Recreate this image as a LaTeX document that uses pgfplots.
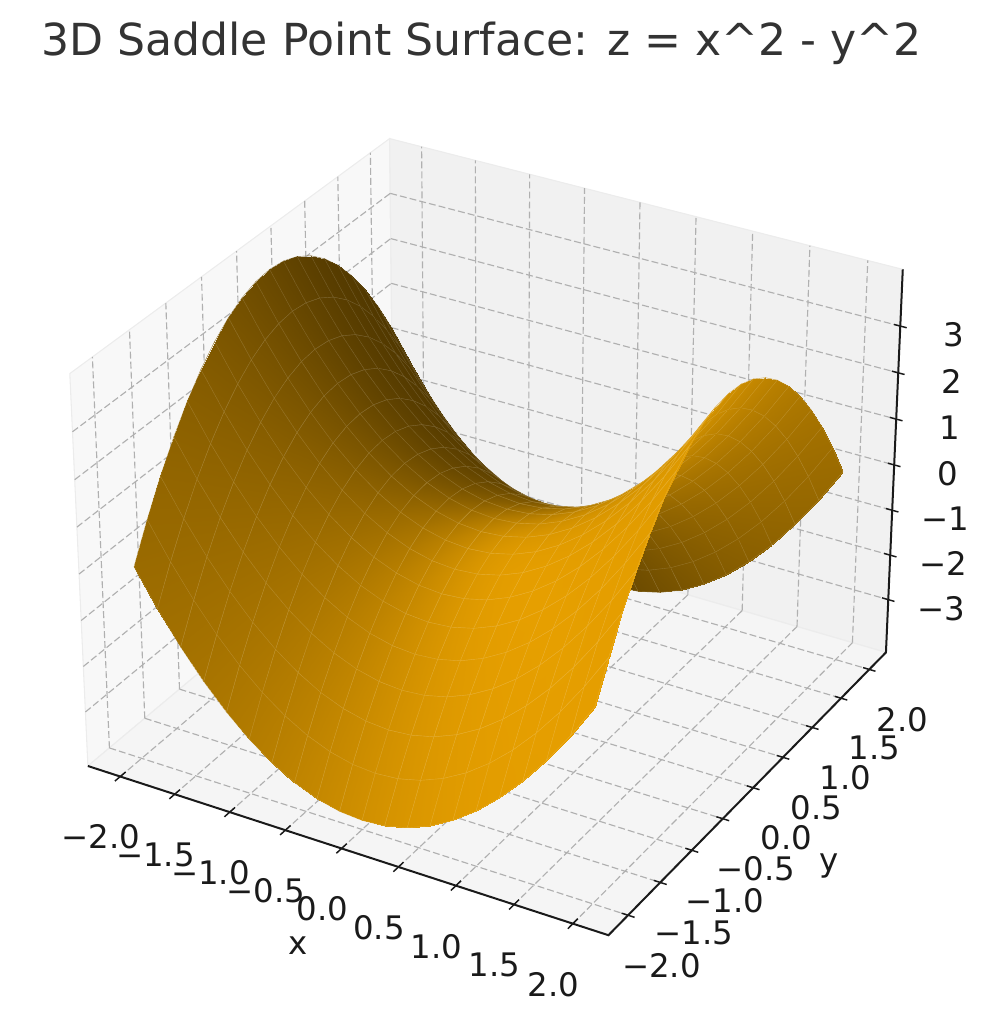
\documentclass[border=0pt]{standalone}
\usepackage{fontspec}
\setmainfont{DejaVu Sans}
\usepackage{pgfplots}
\pgfplotsset{compat=1.18}
\definecolor{paneleft}{RGB}{248,248,248}
\definecolor{paneback}{RGB}{241,241,241}
\definecolor{panefloor}{RGB}{245,245,245}
\definecolor{paneedge}{RGB}{236,236,236}
\definecolor{gridgray}{RGB}{176,176,176}
\definecolor{ink}{RGB}{26,26,26}
\definecolor{titleink}{RGB}{51,51,51}
% perspective like the reference view (elev 30, azim -60, focal 1)
\makeatletter
\newdimen\persp@a \persp@a=0.010757pt
\newdimen\persp@b \persp@b=-0.018632pt
\newdimen\persp@c \persp@c=0.0051pt
\newdimen\persp@s \newdimen\persp@w \newdimen\persp@t
\def\persp@point#1#2#3{%
  \global\pgf@x=#1\pgf@xx \global\advance\pgf@x by #2\pgf@yx \global\advance\pgf@x by #3\pgf@zx
  \global\pgf@y=#1\pgf@xy \global\advance\pgf@y by #2\pgf@yy \global\advance\pgf@y by #3\pgf@zy
  \persp@s=#1\persp@a \advance\persp@s by #2\persp@b \advance\persp@s by #3\persp@c
  \persp@w=1pt \advance\persp@w by \persp@s
  \persp@t=\pgf@sys@tonumber\persp@s\persp@s \advance\persp@w by \persp@t
  \persp@t=\pgf@sys@tonumber\persp@s\persp@t \advance\persp@w by \persp@t
  \global\pgf@x=\pgf@sys@tonumber\persp@w\pgf@x
  \global\pgf@y=\pgf@sys@tonumber\persp@w\pgf@y
}
\tikzset{persp on/.code={\global\let\pgfplotsqpointxyz\persp@point}}
\makeatother
\pgfplotstableread{
x y z
-2.0 -2.0 0.00
-1.8 -2.0 -0.76
-1.6 -2.0 -1.44
-1.4 -2.0 -2.04
-1.2 -2.0 -2.56
-1.0 -2.0 -3.00
-0.8 -2.0 -3.36
-0.6 -2.0 -3.64
-0.4 -2.0 -3.84
-0.2 -2.0 -3.96
0.0 -2.0 -4.00
0.2 -2.0 -3.96
0.4 -2.0 -3.84
0.6 -2.0 -3.64
0.8 -2.0 -3.36
1.0 -2.0 -3.00
1.2 -2.0 -2.56
1.4 -2.0 -2.04
1.6 -2.0 -1.44
1.8 -2.0 -0.76
2.0 -2.0 0.00

-2.0 -1.8 0.76
-1.8 -1.8 0.00
-1.6 -1.8 -0.68
-1.4 -1.8 -1.28
-1.2 -1.8 -1.80
-1.0 -1.8 -2.24
-0.8 -1.8 -2.60
-0.6 -1.8 -2.88
-0.4 -1.8 -3.08
-0.2 -1.8 -3.20
0.0 -1.8 -3.24
0.2 -1.8 -3.20
0.4 -1.8 -3.08
0.6 -1.8 -2.88
0.8 -1.8 -2.60
1.0 -1.8 -2.24
1.2 -1.8 -1.80
1.4 -1.8 -1.28
1.6 -1.8 -0.68
1.8 -1.8 0.00
2.0 -1.8 0.76

-2.0 -1.6 1.44
-1.8 -1.6 0.68
-1.6 -1.6 0.00
-1.4 -1.6 -0.60
-1.2 -1.6 -1.12
-1.0 -1.6 -1.56
-0.8 -1.6 -1.92
-0.6 -1.6 -2.20
-0.4 -1.6 -2.40
-0.2 -1.6 -2.52
0.0 -1.6 -2.56
0.2 -1.6 -2.52
0.4 -1.6 -2.40
0.6 -1.6 -2.20
0.8 -1.6 -1.92
1.0 -1.6 -1.56
1.2 -1.6 -1.12
1.4 -1.6 -0.60
1.6 -1.6 0.00
1.8 -1.6 0.68
2.0 -1.6 1.44

-2.0 -1.4 2.04
-1.8 -1.4 1.28
-1.6 -1.4 0.60
-1.4 -1.4 0.00
-1.2 -1.4 -0.52
-1.0 -1.4 -0.96
-0.8 -1.4 -1.32
-0.6 -1.4 -1.60
-0.4 -1.4 -1.80
-0.2 -1.4 -1.92
0.0 -1.4 -1.96
0.2 -1.4 -1.92
0.4 -1.4 -1.80
0.6 -1.4 -1.60
0.8 -1.4 -1.32
1.0 -1.4 -0.96
1.2 -1.4 -0.52
1.4 -1.4 0.00
1.6 -1.4 0.60
1.8 -1.4 1.28
2.0 -1.4 2.04

-2.0 -1.2 2.56
-1.8 -1.2 1.80
-1.6 -1.2 1.12
-1.4 -1.2 0.52
-1.2 -1.2 0.00
-1.0 -1.2 -0.44
-0.8 -1.2 -0.80
-0.6 -1.2 -1.08
-0.4 -1.2 -1.28
-0.2 -1.2 -1.40
0.0 -1.2 -1.44
0.2 -1.2 -1.40
0.4 -1.2 -1.28
0.6 -1.2 -1.08
0.8 -1.2 -0.80
1.0 -1.2 -0.44
1.2 -1.2 0.00
1.4 -1.2 0.52
1.6 -1.2 1.12
1.8 -1.2 1.80
2.0 -1.2 2.56

-2.0 -1.0 3.00
-1.8 -1.0 2.24
-1.6 -1.0 1.56
-1.4 -1.0 0.96
-1.2 -1.0 0.44
-1.0 -1.0 0.00
-0.8 -1.0 -0.36
-0.6 -1.0 -0.64
-0.4 -1.0 -0.84
-0.2 -1.0 -0.96
0.0 -1.0 -1.00
0.2 -1.0 -0.96
0.4 -1.0 -0.84
0.6 -1.0 -0.64
0.8 -1.0 -0.36
1.0 -1.0 0.00
1.2 -1.0 0.44
1.4 -1.0 0.96
1.6 -1.0 1.56
1.8 -1.0 2.24
2.0 -1.0 3.00

-2.0 -0.8 3.36
-1.8 -0.8 2.60
-1.6 -0.8 1.92
-1.4 -0.8 1.32
-1.2 -0.8 0.80
-1.0 -0.8 0.36
-0.8 -0.8 0.00
-0.6 -0.8 -0.28
-0.4 -0.8 -0.48
-0.2 -0.8 -0.60
0.0 -0.8 -0.64
0.2 -0.8 -0.60
0.4 -0.8 -0.48
0.6 -0.8 -0.28
0.8 -0.8 0.00
1.0 -0.8 0.36
1.2 -0.8 0.80
1.4 -0.8 1.32
1.6 -0.8 1.92
1.8 -0.8 2.60
2.0 -0.8 3.36

-2.0 -0.6 3.64
-1.8 -0.6 2.88
-1.6 -0.6 2.20
-1.4 -0.6 1.60
-1.2 -0.6 1.08
-1.0 -0.6 0.64
-0.8 -0.6 0.28
-0.6 -0.6 0.00
-0.4 -0.6 -0.20
-0.2 -0.6 -0.32
0.0 -0.6 -0.36
0.2 -0.6 -0.32
0.4 -0.6 -0.20
0.6 -0.6 0.00
0.8 -0.6 0.28
1.0 -0.6 0.64
1.2 -0.6 1.08
1.4 -0.6 1.60
1.6 -0.6 2.20
1.8 -0.6 2.88
2.0 -0.6 3.64

-2.0 -0.4 3.84
-1.8 -0.4 3.08
-1.6 -0.4 2.40
-1.4 -0.4 1.80
-1.2 -0.4 1.28
-1.0 -0.4 0.84
-0.8 -0.4 0.48
-0.6 -0.4 0.20
-0.4 -0.4 0.00
-0.2 -0.4 -0.12
0.0 -0.4 -0.16
0.2 -0.4 -0.12
0.4 -0.4 0.00
0.6 -0.4 0.20
0.8 -0.4 0.48
1.0 -0.4 0.84
1.2 -0.4 1.28
1.4 -0.4 1.80
1.6 -0.4 2.40
1.8 -0.4 3.08
2.0 -0.4 3.84

-2.0 -0.2 3.96
-1.8 -0.2 3.20
-1.6 -0.2 2.52
-1.4 -0.2 1.92
-1.2 -0.2 1.40
-1.0 -0.2 0.96
-0.8 -0.2 0.60
-0.6 -0.2 0.32
-0.4 -0.2 0.12
-0.2 -0.2 0.00
0.0 -0.2 -0.04
0.2 -0.2 0.00
0.4 -0.2 0.12
0.6 -0.2 0.32
0.8 -0.2 0.60
1.0 -0.2 0.96
1.2 -0.2 1.40
1.4 -0.2 1.92
1.6 -0.2 2.52
1.8 -0.2 3.20
2.0 -0.2 3.96

-2.0 0.0 4.00
-1.8 0.0 3.24
-1.6 0.0 2.56
-1.4 0.0 1.96
-1.2 0.0 1.44
-1.0 0.0 1.00
-0.8 0.0 0.64
-0.6 0.0 0.36
-0.4 0.0 0.16
-0.2 0.0 0.04
0.0 0.0 0.00
0.2 0.0 0.04
0.4 0.0 0.16
0.6 0.0 0.36
0.8 0.0 0.64
1.0 0.0 1.00
1.2 0.0 1.44
1.4 0.0 1.96
1.6 0.0 2.56
1.8 0.0 3.24
2.0 0.0 4.00

-2.0 0.2 3.96
-1.8 0.2 3.20
-1.6 0.2 2.52
-1.4 0.2 1.92
-1.2 0.2 1.40
-1.0 0.2 0.96
-0.8 0.2 0.60
-0.6 0.2 0.32
-0.4 0.2 0.12
-0.2 0.2 0.00
0.0 0.2 -0.04
0.2 0.2 0.00
0.4 0.2 0.12
0.6 0.2 0.32
0.8 0.2 0.60
1.0 0.2 0.96
1.2 0.2 1.40
1.4 0.2 1.92
1.6 0.2 2.52
1.8 0.2 3.20
2.0 0.2 3.96

-2.0 0.4 3.84
-1.8 0.4 3.08
-1.6 0.4 2.40
-1.4 0.4 1.80
-1.2 0.4 1.28
-1.0 0.4 0.84
-0.8 0.4 0.48
-0.6 0.4 0.20
-0.4 0.4 0.00
-0.2 0.4 -0.12
0.0 0.4 -0.16
0.2 0.4 -0.12
0.4 0.4 0.00
0.6 0.4 0.20
0.8 0.4 0.48
1.0 0.4 0.84
1.2 0.4 1.28
1.4 0.4 1.80
1.6 0.4 2.40
1.8 0.4 3.08
2.0 0.4 3.84

-2.0 0.6 3.64
-1.8 0.6 2.88
-1.6 0.6 2.20
-1.4 0.6 1.60
-1.2 0.6 1.08
-1.0 0.6 0.64
-0.8 0.6 0.28
-0.6 0.6 0.00
-0.4 0.6 -0.20
-0.2 0.6 -0.32
0.0 0.6 -0.36
0.2 0.6 -0.32
0.4 0.6 -0.20
0.6 0.6 0.00
0.8 0.6 0.28
1.0 0.6 0.64
1.2 0.6 1.08
1.4 0.6 1.60
1.6 0.6 2.20
1.8 0.6 2.88
2.0 0.6 3.64

-2.0 0.8 3.36
-1.8 0.8 2.60
-1.6 0.8 1.92
-1.4 0.8 1.32
-1.2 0.8 0.80
-1.0 0.8 0.36
-0.8 0.8 0.00
-0.6 0.8 -0.28
-0.4 0.8 -0.48
-0.2 0.8 -0.60
0.0 0.8 -0.64
0.2 0.8 -0.60
0.4 0.8 -0.48
0.6 0.8 -0.28
0.8 0.8 0.00
1.0 0.8 0.36
1.2 0.8 0.80
1.4 0.8 1.32
1.6 0.8 1.92
1.8 0.8 2.60
2.0 0.8 3.36

-2.0 1.0 3.00
-1.8 1.0 2.24
-1.6 1.0 1.56
-1.4 1.0 0.96
-1.2 1.0 0.44
-1.0 1.0 0.00
-0.8 1.0 -0.36
-0.6 1.0 -0.64
-0.4 1.0 -0.84
-0.2 1.0 -0.96
0.0 1.0 -1.00
0.2 1.0 -0.96
0.4 1.0 -0.84
0.6 1.0 -0.64
0.8 1.0 -0.36
1.0 1.0 0.00
1.2 1.0 0.44
1.4 1.0 0.96
1.6 1.0 1.56
1.8 1.0 2.24
2.0 1.0 3.00

-2.0 1.2 2.56
-1.8 1.2 1.80
-1.6 1.2 1.12
-1.4 1.2 0.52
-1.2 1.2 0.00
-1.0 1.2 -0.44
-0.8 1.2 -0.80
-0.6 1.2 -1.08
-0.4 1.2 -1.28
-0.2 1.2 -1.40
0.0 1.2 -1.44
0.2 1.2 -1.40
0.4 1.2 -1.28
0.6 1.2 -1.08
0.8 1.2 -0.80
1.0 1.2 -0.44
1.2 1.2 0.00
1.4 1.2 0.52
1.6 1.2 1.12
1.8 1.2 1.80
2.0 1.2 2.56

-2.0 1.4 2.04
-1.8 1.4 1.28
-1.6 1.4 0.60
-1.4 1.4 0.00
-1.2 1.4 -0.52
-1.0 1.4 -0.96
-0.8 1.4 -1.32
-0.6 1.4 -1.60
-0.4 1.4 -1.80
-0.2 1.4 -1.92
0.0 1.4 -1.96
0.2 1.4 -1.92
0.4 1.4 -1.80
0.6 1.4 -1.60
0.8 1.4 -1.32
1.0 1.4 -0.96
1.2 1.4 -0.52
1.4 1.4 0.00
1.6 1.4 0.60
1.8 1.4 1.28
2.0 1.4 2.04

-2.0 1.6 1.44
-1.8 1.6 0.68
-1.6 1.6 0.00
-1.4 1.6 -0.60
-1.2 1.6 -1.12
-1.0 1.6 -1.56
-0.8 1.6 -1.92
-0.6 1.6 -2.20
-0.4 1.6 -2.40
-0.2 1.6 -2.52
0.0 1.6 -2.56
0.2 1.6 -2.52
0.4 1.6 -2.40
0.6 1.6 -2.20
0.8 1.6 -1.92
1.0 1.6 -1.56
1.2 1.6 -1.12
1.4 1.6 -0.60
1.6 1.6 0.00
1.8 1.6 0.68
2.0 1.6 1.44

-2.0 1.8 0.76
-1.8 1.8 0.00
-1.6 1.8 -0.68
-1.4 1.8 -1.28
-1.2 1.8 -1.80
-1.0 1.8 -2.24
-0.8 1.8 -2.60
-0.6 1.8 -2.88
-0.4 1.8 -3.08
-0.2 1.8 -3.20
0.0 1.8 -3.24
0.2 1.8 -3.20
0.4 1.8 -3.08
0.6 1.8 -2.88
0.8 1.8 -2.60
1.0 1.8 -2.24
1.2 1.8 -1.80
1.4 1.8 -1.28
1.6 1.8 -0.68
1.8 1.8 0.00
2.0 1.8 0.76

-2.0 2.0 0.00
-1.8 2.0 -0.76
-1.6 2.0 -1.44
-1.4 2.0 -2.04
-1.2 2.0 -2.56
-1.0 2.0 -3.00
-0.8 2.0 -3.36
-0.6 2.0 -3.64
-0.4 2.0 -3.84
-0.2 2.0 -3.96
0.0 2.0 -4.00
0.2 2.0 -3.96
0.4 2.0 -3.84
0.6 2.0 -3.64
0.8 2.0 -3.36
1.0 2.0 -3.00
1.2 2.0 -2.56
1.4 2.0 -2.04
1.6 2.0 -1.44
1.8 2.0 -0.76
2.0 2.0 0.00
}\saddledata
\begin{document}
\begin{tikzpicture}
\begin{axis}[
  at={(0pt,0pt)}, anchor=origin,
  disabledatascaling,
  x={(84.23pt,-24.32pt)}, y={(48.63pt,42.11pt)}, z={(0pt,34.60pt)},
  xmin=-2.3, xmax=2.3, ymin=-2.3, ymax=2.3, zmin=-4.2, zmax=4.2,
  set layers, clip=false,
  every axis plot/.append style={persp on},
  axis line style={draw=none},
  grid=major,
  grid style={persp on, gridgray, line width=0.85pt, dash pattern=on 5.2pt off 2.3pt},
  tick style={draw=none},
  major tick length=0pt,
  xtick={-2,-1.5,-1,-0.5,0,0.5,1,1.5,2},
  ytick={-2,-1.5,-1,-0.5,0,0.5,1,1.5,2},
  ztick={-3,-2,-1,0,1,2,3},
  xticklabels={−2.0,−1.5,−1.0,−0.5,0.0,0.5,1.0,1.5,2.0},
  yticklabels={−2.0,−1.5,−1.0,−0.5,0.0,0.5,1.0,1.5,2.0},
  zticklabels={−3,−2,−1,0,1,2,3},
  ztick pos=right,
  tick label style={persp on, font=\fontsize{24.3}{29}\selectfont, text=ink, anchor=center},
  xticklabel style={xshift=-14.5pt, yshift=-45.5pt},
  yticklabel style={xshift=25pt, yshift=-37.5pt},
  zticklabel style={xshift=40pt, yshift=-6.5pt},
  label style={font=\fontsize{24.3}{29}\selectfont, text=ink, anchor=center},
  xlabel={x}, ylabel={y},
  xlabel style={at={(axis cs:0,-2.3,-4.2)}, xshift=-33pt, yshift=-73pt},
  ylabel style={at={(axis cs:2.3,0,-4.2)}, xshift=57pt, yshift=-58.7pt},
  colormap={saddle}{rgb255(0cm)=(69,48,0) rgb255(1cm)=(230,159,0)},
  point meta min=0.3, point meta max=1,
]
\addplot3[on layer=axis background, draw=paneedge, line width=0.8pt, fill=paneleft, forget plot]
  coordinates {(-2.3,-2.3,-4.2) (-2.3,2.3,-4.2) (-2.3,2.3,4.2) (-2.3,-2.3,4.2) (-2.3,-2.3,-4.2)};
\addplot3[on layer=axis background, draw=paneedge, line width=0.8pt, fill=paneback, forget plot]
  coordinates {(-2.3,2.3,-4.2) (2.3,2.3,-4.2) (2.3,2.3,4.2) (-2.3,2.3,4.2) (-2.3,2.3,-4.2)};
\addplot3[on layer=axis background, draw=paneedge, line width=0.8pt, fill=panefloor, forget plot]
  coordinates {(-2.3,-2.3,-4.2) (2.3,-2.3,-4.2) (2.3,2.3,-4.2) (-2.3,2.3,-4.2) (-2.3,-2.3,-4.2)};
\addplot3[surf, shader=faceted interp, faceted color={mapped color!84!white}, line width=0.3pt,
  mesh/ordering=x varies,
  point meta={0.65+0.35*(1.3333*\thisrow{x}-1.3333*\thisrow{y}+0.3333)/sqrt(4*\thisrow{x}*\thisrow{x}+4*\thisrow{y}*\thisrow{y}+1)}]
  table[x=x,y=y,z=z] {\saddledata};
\addplot3[ink, line width=1.5pt, forget plot]
  coordinates {(-2.3,-2.3,-4.2) (2.3,-2.3,-4.2) (2.3,2.3,-4.2) (2.3,2.3,4.2)};
% tick marks cross the edges along the neighbouring axis direction
\addplot3[ink, line width=1.1pt, unbounded coords=jump, forget plot]
  coordinates {
  (-2,-2.375,-4.2) (-2,-2.225,-4.2) (-2,nan,-4.2)
  (-1.5,-2.375,-4.2) (-1.5,-2.225,-4.2) (-1.5,nan,-4.2)
  (-1,-2.375,-4.2) (-1,-2.225,-4.2) (-1,nan,-4.2)
  (-0.5,-2.375,-4.2) (-0.5,-2.225,-4.2) (-0.5,nan,-4.2)
  (0,-2.375,-4.2) (0,-2.225,-4.2) (0,nan,-4.2)
  (0.5,-2.375,-4.2) (0.5,-2.225,-4.2) (0.5,nan,-4.2)
  (1,-2.375,-4.2) (1,-2.225,-4.2) (1,nan,-4.2)
  (1.5,-2.375,-4.2) (1.5,-2.225,-4.2) (1.5,nan,-4.2)
  (2,-2.375,-4.2) (2,-2.225,-4.2) (2,nan,-4.2)
  (2.245,-2,-4.2) (2.355,-2,-4.2) (nan,-2,-4.2)
  (2.245,-1.5,-4.2) (2.355,-1.5,-4.2) (nan,-1.5,-4.2)
  (2.245,-1,-4.2) (2.355,-1,-4.2) (nan,-1,-4.2)
  (2.245,-0.5,-4.2) (2.355,-0.5,-4.2) (nan,-0.5,-4.2)
  (2.245,0,-4.2) (2.355,0,-4.2) (nan,0,-4.2)
  (2.245,0.5,-4.2) (2.355,0.5,-4.2) (nan,0.5,-4.2)
  (2.245,1,-4.2) (2.355,1,-4.2) (nan,1,-4.2)
  (2.245,1.5,-4.2) (2.355,1.5,-4.2) (nan,1.5,-4.2)
  (2.245,2,-4.2) (2.355,2,-4.2) (nan,2,-4.2)
  (2.245,2.3,-3) (2.355,2.3,-3) (nan,2.3,-3)
  (2.245,2.3,-2) (2.355,2.3,-2) (nan,2.3,-2)
  (2.245,2.3,-1) (2.355,2.3,-1) (nan,2.3,-1)
  (2.245,2.3,0) (2.355,2.3,0) (nan,2.3,0)
  (2.245,2.3,1) (2.355,2.3,1) (nan,2.3,1)
  (2.245,2.3,2) (2.355,2.3,2) (nan,2.3,2)
  (2.245,2.3,3) (2.355,2.3,3)
  };
\end{axis}
\node[text=titleink, font=\fontsize{33.1}{40}\selectfont] at (-9.2pt,356.5pt) {3D Saddle Point Surface: z = x\textasciicircum 2 - y\textasciicircum 2};
\pgfresetboundingbox
\useasboundingbox (-370.5pt,-379.125pt) rectangle (369.75pt,388.875pt);
\end{tikzpicture}
\end{document}
